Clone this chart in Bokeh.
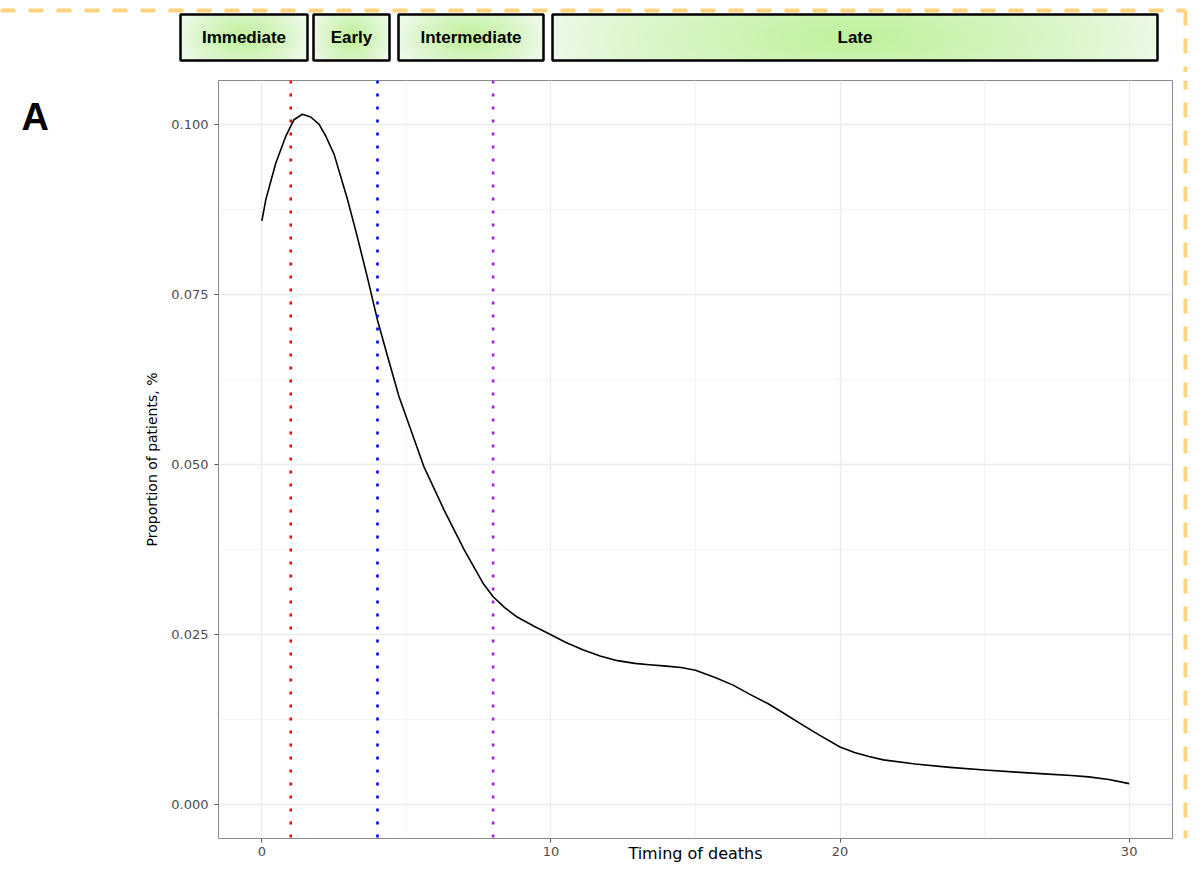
import numpy as np
from bokeh.plotting import figure
from bokeh.layouts import column, row
from bokeh.models import Range1d, FixedTicker, PrintfTickFormatter, Span
from bokeh.core.properties import value
from bokeh.embed import file_html
from bokeh.resources import INLINE

# ---------------- data ----------------
timing = [0.0, 0.14, 0.48, 0.83, 1.11, 1.40, 1.69, 1.98, 2.21, 2.50, 2.96, 3.30,
          3.65, 4.0, 4.34, 4.74, 5.6, 6.3, 7.0, 7.65, 8.0, 8.4, 8.8, 9.4, 10.0,
          10.5, 11.1, 11.7, 12.3, 12.9, 13.4, 14.0, 14.5, 15.0, 15.7, 16.3, 16.9,
          17.5, 18.0, 18.6, 19.3, 20.0, 20.5, 21.0, 21.5, 22.6, 23.8, 25.0, 26.1,
          27.2, 28.0, 28.6, 29.3, 30.0]
proportion = [0.0858, 0.0890, 0.0943, 0.0983, 0.1007, 0.1015, 0.1011, 0.1000,
              0.0983, 0.0956, 0.0890, 0.0835, 0.0775, 0.0712, 0.0660, 0.0600,
              0.0497, 0.0433, 0.0374, 0.0325, 0.0305, 0.0289, 0.0276, 0.0262,
              0.0249, 0.0238, 0.0227, 0.0218, 0.0211, 0.0207, 0.0205, 0.0203,
              0.0201, 0.0197, 0.0186, 0.0175, 0.0161, 0.0148, 0.0135, 0.0119,
              0.0101, 0.0084, 0.0076, 0.0070, 0.0065, 0.0059, 0.0054, 0.0050,
              0.0047, 0.0044, 0.0042, 0.0040, 0.0036, 0.0030]
phase_names = ["Immediate", "Early", "Intermediate", "Late"]
cutoffs = [1, 4, 8]
cutoff_colors = ["#FF0000", "#0000FF", "#A020F0"]
x_ticks = [0, 10, 20, 30]
x_minor = [5, 15, 25]
y_ticks = [0.0, 0.025, 0.05, 0.075, 0.1]
y_minor = [0.0125, 0.0375, 0.0625, 0.0875]

# ---------------- layout / style ----------------
TOTAL_W = 1192
HEAD_H = 72
MAIN_H = 800
LEFT_W = 130
RIGHT_W = 16
MAIN_W = TOTAL_W - LEFT_W - RIGHT_W
DASH_COLOR = "#fcd47f"
DASH_X = 1185
box_left = [180, 313, 398, 552]
box_right = [307, 389, 543, 1157]
box_bottom, box_top = 12, 58
label_y = 35
FONT = "DejaVu Sans"


def deco_fig(w, h):
    f = figure(width=w, height=h, x_range=Range1d(0, w), y_range=Range1d(0, h),
               x_axis_type=None, y_axis_type=None, toolbar_location=None,
               output_backend="svg", min_border=0, outline_line_color=None)
    f.grid.visible = False
    f.background_fill_color = "white"
    f.border_fill_color = "white"
    return f


def grad_img(cols=160, rows=24, vy=0.35):
    xx = np.linspace(-1, 1, cols)
    yy = np.linspace(-1, 1, rows)
    X, Y = np.meshgrid(xx, yy)
    t = np.clip(1 - np.sqrt(X ** 2 + vy * Y ** 2), 0, 1) ** 0.8
    c0 = np.array([236, 249, 231], dtype=float)
    c1 = np.array([192, 241, 156], dtype=float)
    rgb = c0 + (c1 - c0) * t[..., None]
    img = np.empty((rows, cols), dtype=np.uint32)
    view = img.view(dtype=np.uint8).reshape((rows, cols, 4))
    view[..., 0:3] = rgb.astype(np.uint8)
    view[..., 3] = 255
    return img


# header
hp = deco_fig(TOTAL_W, HEAD_H)
hp.line([0, DASH_X], [62, 62], line_color=DASH_COLOR, line_width=4, line_dash="15 13")
hp.line([DASH_X, DASH_X], [62, 0], line_color=DASH_COLOR, line_width=4, line_dash="15 13")
for i, (l, r) in enumerate(zip(box_left, box_right)):
    vy = 0.08 if i == 3 else 0.35
    hp.image_rgba(image=[grad_img(vy=vy)], x=l, y=box_bottom, dw=r - l, dh=box_top - box_bottom)
hp.quad(left=box_left, right=box_right, top=box_top, bottom=box_bottom,
        fill_color=None, line_color="black", line_width=2.5)
hp.text(x=[(l + r) / 2 for l, r in zip(box_left, box_right)], y=[label_y] * 4, text=phase_names,
        text_align="center", text_baseline="middle", text_font=value("Liberation Sans"),
        text_font_style="bold", text_font_size="17px", text_color="black")

# left panel letter
lp = deco_fig(LEFT_W, MAIN_H)
lp.text(x=[21], y=[MAIN_H - 39], text=["A"], text_align="left", text_baseline="middle",
        text_font=value("Liberation Sans"), text_font_style="bold", text_font_size="38px",
        text_color="black")

# right dashed strip
rp = deco_fig(RIGHT_W, MAIN_H)
rp.line([DASH_X - (TOTAL_W - RIGHT_W)] * 2, [MAIN_H, 0], line_color=DASH_COLOR,
        line_width=4, line_dash="15 13", line_dash_offset=6)

# main chart
p = figure(width=MAIN_W, height=MAIN_H, x_range=Range1d(-1.5, 31.5),
           y_range=Range1d(-0.00507, 0.10647), toolbar_location=None,
           output_backend="svg", min_border_left=88, min_border_right=4,
           min_border_top=8, min_border_bottom=34,
           x_axis_label="Timing of deaths", y_axis_label="Proportion of patients, %")
p.background_fill_color = "white"
p.border_fill_color = "white"
p.outline_line_color = "#8a8a8a"
p.outline_line_width = 1

p.xgrid.ticker = FixedTicker(ticks=x_ticks, minor_ticks=x_minor)
p.ygrid.ticker = FixedTicker(ticks=y_ticks, minor_ticks=y_minor)
for g in (p.xgrid, p.ygrid):
    g.grid_line_color = "#ebebeb"
    g.grid_line_width = 1.4
    g.minor_grid_line_color = "#f2f2f2"
    g.minor_grid_line_width = 0.9

p.xaxis.ticker = FixedTicker(ticks=x_ticks)
p.yaxis.ticker = FixedTicker(ticks=y_ticks)
p.yaxis.formatter = PrintfTickFormatter(format="%.3f")
for ax in (p.xaxis, p.yaxis):
    ax.axis_line_color = None
    ax.major_tick_in = 0
    ax.major_tick_out = 4
    ax.major_tick_line_color = "#555555"
    ax.minor_tick_line_color = None
    ax.major_label_text_font = FONT
    ax.major_label_text_font_size = "13px"
    ax.major_label_text_color = "#4d4d4d"
    ax.axis_label_text_font = FONT
    ax.axis_label_text_font_style = "normal"
    ax.axis_label_text_color = "black"
p.yaxis.major_label_standoff = 6
p.yaxis.axis_label_standoff = 8
p.yaxis.axis_label_text_font_size = "14px"
p.xaxis.major_label_standoff = 4
p.xaxis.axis_label_standoff = -15
p.xaxis.axis_label_text_font_size = "16px"

for xc, col in zip(cutoffs, cutoff_colors):
    p.add_layout(Span(location=xc, dimension="height", line_color=col,
                      line_width=2.6, line_dash="3 10"))

p.line(timing, proportion, line_color="black", line_width=1.6, line_join="round")

layout = column(hp, row(lp, p, rp, spacing=0), spacing=0)

open("out.html", "w").write(file_html(layout, INLINE))
